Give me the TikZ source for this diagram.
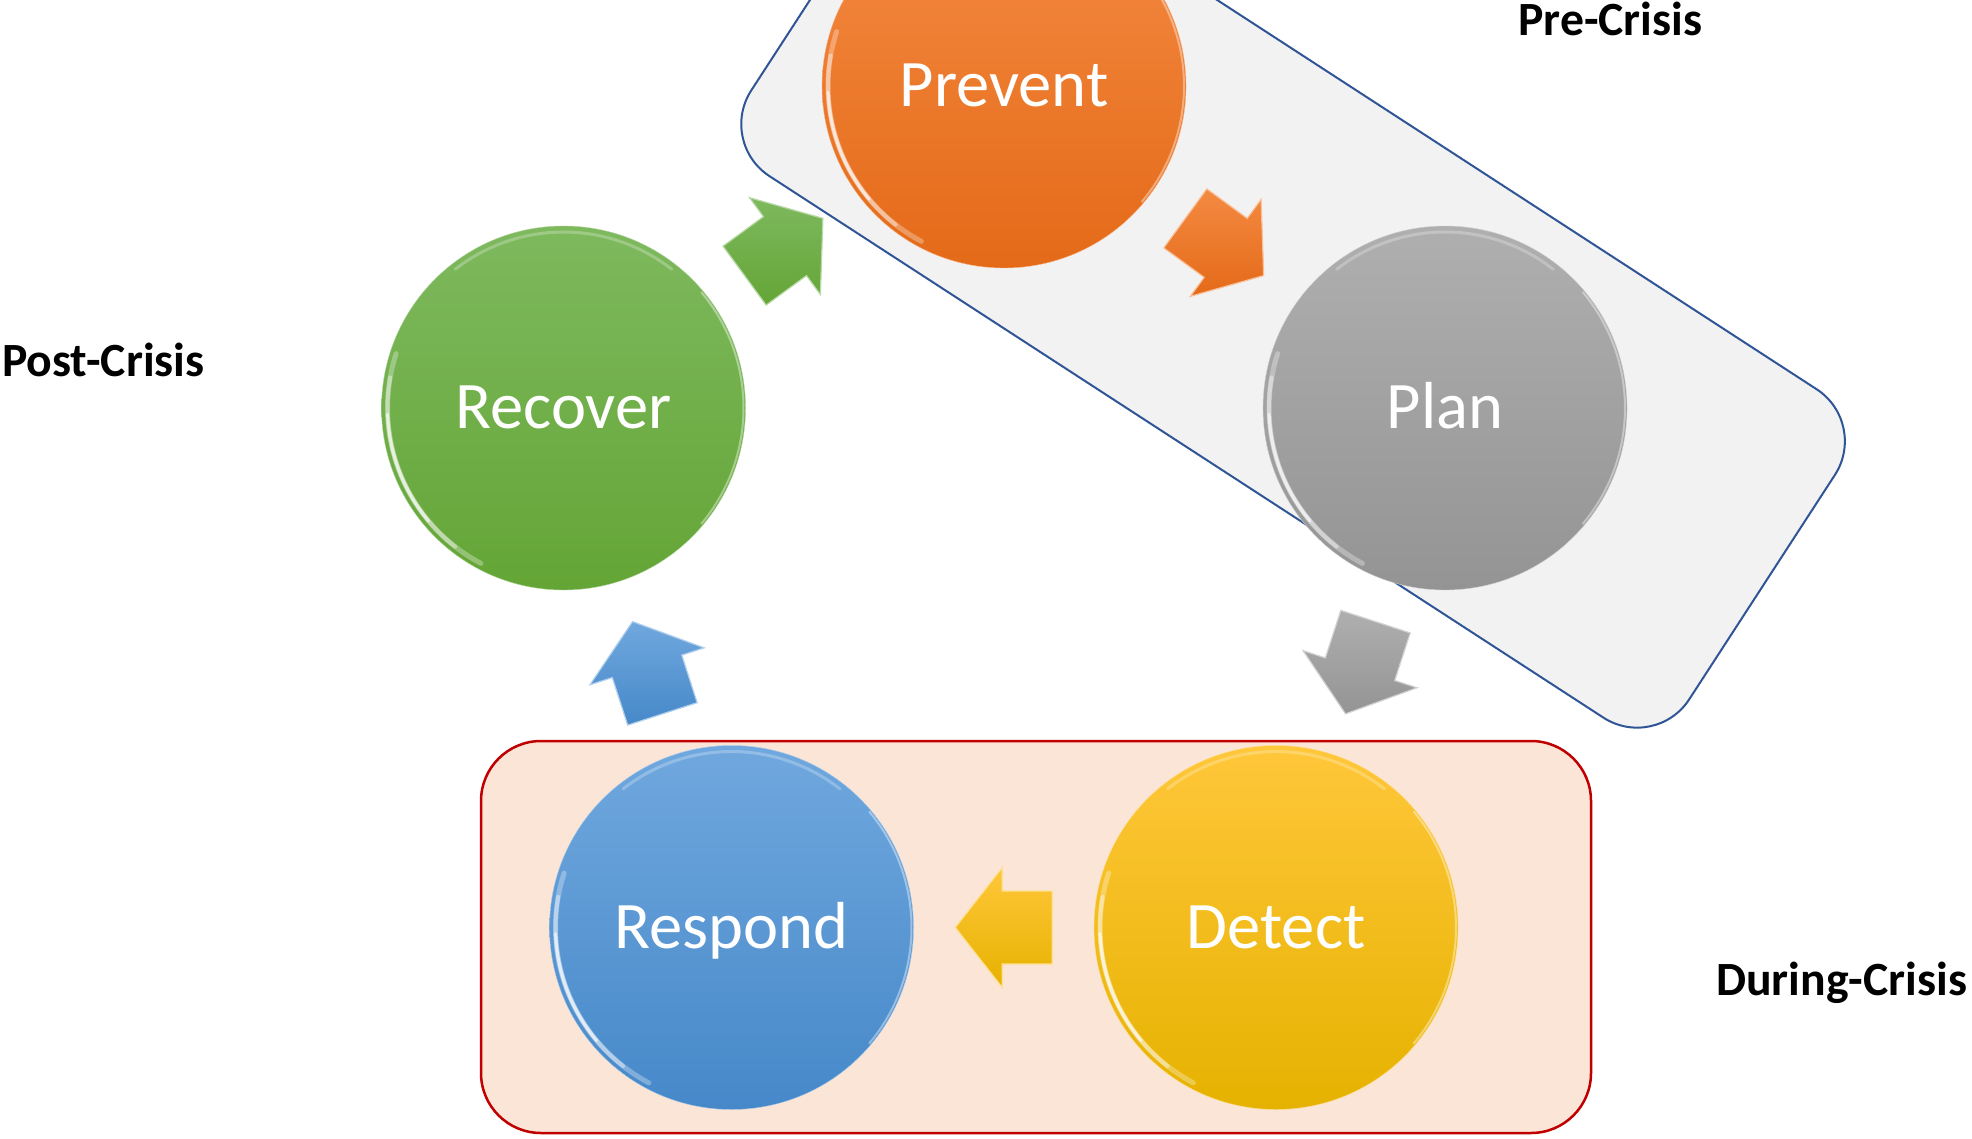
\documentclass[tikz,border=0pt]{standalone}
\usepackage{fontspec}
\setmainfont{Carlito}
\usetikzlibrary{calc}

% palette: light (top) and dark (bottom) tone of each phase
\definecolor{orangeL}{RGB}{244,138,66}
\definecolor{orangeD}{RGB}{228,106,24}
\definecolor{grayL}{RGB}{175,175,175}
\definecolor{grayD}{RGB}{148,148,148}
\definecolor{greenL}{RGB}{126,185,94}
\definecolor{greenD}{RGB}{100,165,54}
\definecolor{blueL}{RGB}{112,168,222}
\definecolor{blueD}{RGB}{70,136,201}
\definecolor{yellowL}{RGB}{255,199,58}
\definecolor{yellowD}{RGB}{230,178,0}
\definecolor{preFill}{RGB}{242,242,242}
\definecolor{preLine}{RGB}{47,85,151}
\definecolor{duringFill}{RGB}{251,229,214}
\definecolor{duringLine}{RGB}{192,0,0}

\tikzset{
  phasedisk/.style={circle, minimum size=364pt, inner sep=0pt, text=white,
    font=\fontsize{66.5}{72}\selectfont, text height=43pt, text depth=2pt},
  phaselabel/.style={anchor=base west, inner sep=0pt,
    font=\bfseries\fontsize{47.7}{54}\selectfont},
  stagebox/.style={line width=2pt, rounded corners=62pt},
}

% glossy rim on the lower left and top of a disk
\newcommand\rimlight[1]{%
  \begin{scope}[shift={(#1.center)}]
    \draw[white, line width=5pt, opacity=.3, line cap=round]
      plot[domain=118:198, samples=40] ({176*cos(\x)},{176*sin(\x)});
    \draw[white, line width=4pt, opacity=.4, line cap=round]
      plot[domain=128:190, samples=40] ({176*cos(\x)},{176*sin(\x)});
    \draw[white, line width=3pt, opacity=.6, line cap=round]
      plot[domain=140:178, samples=30] ({176*cos(\x)},{176*sin(\x)});
    \draw[white, line width=3pt, opacity=.25, line cap=round]
      plot[domain=232:308, samples=40] ({176*cos(\x)},{176*sin(\x)});
    \draw[white, line width=2pt, opacity=.4, line cap=round]
      plot[domain=-40:40, samples=40] ({180*cos(\x)},{180*sin(\x)});
  \end{scope}}

% block arrow halfway between two disks, pointing from #1 to #2
\newcommand\blockarrow[4]{%
  \coordinate (ba-m) at ($(#1.center)!0.5!(#2.center)$);
  \coordinate (ba-h) at ($(ba-m)!1.5pt!(#2.center)$);
  \coordinate (ba-t) at ($(ba-m)!48.5pt!(#2.center)$);
  \coordinate (ba-e) at ($(ba-m)!-48.5pt!(#2.center)$);
  \path[top color=#3, bottom color=#4, draw=#3!55!white, line width=1.2pt,
        line join=miter]
    (ba-t)
    -- ($(ba-h)!60pt!90:(#2.center)$)
    -- ($(ba-h)!36.5pt!90:(#2.center)$)
    -- ($(ba-e)!36.5pt!90:(#2.center)$)
    -- ($(ba-e)!36.5pt!-90:(#2.center)$)
    -- ($(ba-h)!36.5pt!-90:(#2.center)$)
    -- ($(ba-h)!60pt!-90:(#2.center)$)
    -- cycle;}

\begin{document}
\begin{tikzpicture}[x=1pt, y=-1pt]
  \useasboundingbox (0,0) rectangle (1972,1139);
  \clip (0,0) rectangle (1972,1139);
  \fill[white] (0,0) rectangle (1972,1139);

  % stage frames
  \draw[stagebox, fill=preFill, draw=preLine]
    (717.5,142.4) -- (930.7,-186.0) -- (1868.6,423.0) -- (1655.4,751.4) -- cycle;
  \draw[stagebox, rounded corners=60pt, line width=2.5pt, fill=duringFill, draw=duringLine]
    (481,741) rectangle (1591,1133);

  % phases
  \node[phasedisk, top color=orangeL, bottom color=orangeD, draw=orangeL!60!white] (prevent) at (1004,86) {Prevent};
  \node[phasedisk, top color=grayL, bottom color=grayD, draw=grayL!60!white] (plan) at (1445,408) {Plan};
  \node[phasedisk, top color=yellowL, bottom color=yellowD, draw=yellowL!60!white] (detect) at (1276,927.5) {Detect};
  \node[phasedisk, top color=blueL, bottom color=blueD, draw=blueL!60!white] (respond) at (731.5,927.5) {Respond};
  \node[phasedisk, top color=greenL, bottom color=greenD, draw=greenL!60!white] (recover) at (563.5,408) {Recover};
  \rimlight{prevent}
  \rimlight{plan}
  \rimlight{detect}
  \rimlight{respond}
  \rimlight{recover}

  % cycle arrows
  \blockarrow{recover}{prevent}{greenL}{greenD}
  \blockarrow{prevent}{plan}{orangeL}{orangeD}
  \blockarrow{plan}{detect}{grayL}{grayD}
  \blockarrow{detect}{respond}{yellowL}{yellowD}
  \blockarrow{respond}{recover}{blueL}{blueD}

  % stage names
  \node[phaselabel] (pre) at (1518,36) {Pre-Crisis};
  \node[phaselabel] (post) at (2,377) {Post-Crisis};
  \node[phaselabel] (during) at (1716,995) {During-Crisis};
\end{tikzpicture}
\end{document}
